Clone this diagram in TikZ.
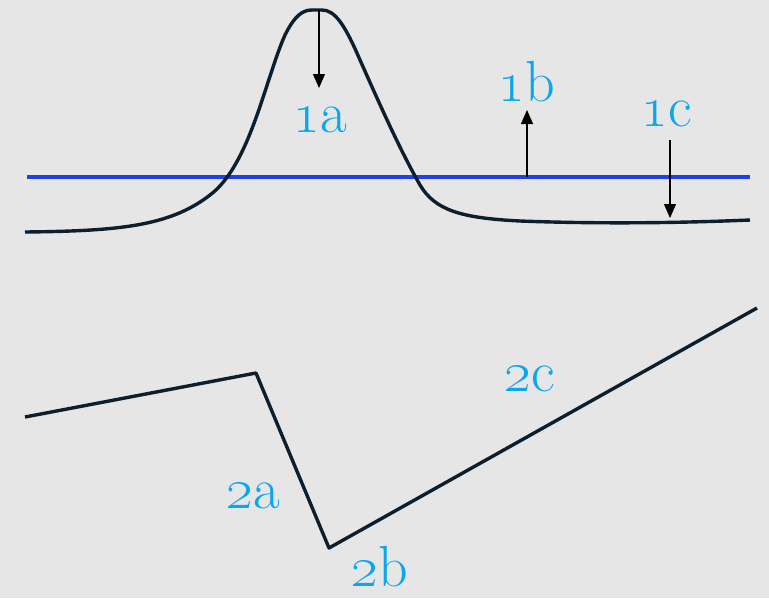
\documentclass[tikz,border=0pt]{standalone}
\usepackage{fix-cm}
\usetikzlibrary{arrows.meta}
\definecolor{Canvas}{HTML}{E6E6E6}
\definecolor{Ink}{HTML}{0D1F2D}
\definecolor{Level}{HTML}{2040E8}
\definecolor{Sky}{HTML}{0AA6EE}
\begin{document}
\begin{tikzpicture}[x=1pt,y=-1pt,every node/.style={text=Sky,font=\fontsize{58}{62}\selectfont,inner sep=0pt},curve/.style={draw=Ink,line width=3.4pt,line join=round},level/.style={draw=Level,line width=4.6pt},pointer/.style={draw=black,line width=1.2pt,-{Triangle[length=14pt,width=12pt]}}]
\fill[Canvas] (0,0) rectangle (769,598);
\useasboundingbox (0,0) rectangle (769,598);

\draw[level] (27,177) -- (750,177);
\draw[curve] (25,232) .. controls (120,231) and (170,226) .. (210,195) .. controls (250,165) and (265,80) .. (285,35) .. controls (295,15) and (303,10) .. (312,10) -- (322,10) .. controls (335,10) and (345,25) .. (360,60) .. controls (380,105) and (400,150) .. (420,185) .. controls (435,210) and (460,218) .. (520,221) .. controls (600,224) and (680,223) .. (750,220);

\coordinate (p1a) at (319,10); \coordinate (q1a) at (319,88);
\coordinate (p1b) at (527,177); \coordinate (q1b) at (527,110);
\coordinate (p1c) at (670,140); \coordinate (q1c) at (670,218);
\draw[pointer] (p1a) -- (q1a);
\draw[pointer] (p1b) -- (q1b);
\draw[pointer] (p1c) -- (q1c);
\node (l1a) at (320,120) {\oldstylenums{1}a};
\node (l1b) at (527,82) {\oldstylenums{1}b};
\node (l1c) at (667,114) {\oldstylenums{1}c};

\coordinate (s0) at (25,417); \coordinate (s1) at (256,373);
\coordinate (s2) at (329,548); \coordinate (s3) at (757,308);
\draw[curve,line cap=butt] (s0) -- (s1) -- (s2) -- (s3);
\node (l2a) at (253,496) {\oldstylenums{2}a};
\node (l2b) at (380,567) {\oldstylenums{2}b};
\node (l2c) at (530,379) {\oldstylenums{2}c};
\end{tikzpicture}
\end{document}
